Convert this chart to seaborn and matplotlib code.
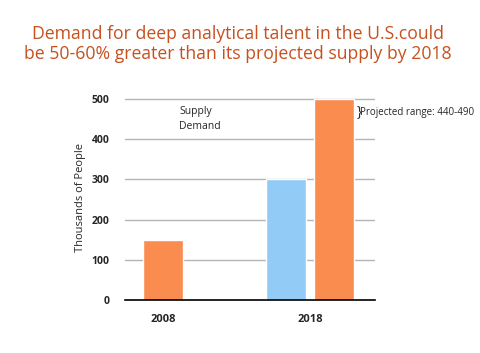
import seaborn as sns
import pandas as pd
import matplotlib.pyplot as plt

years = ["2008", "2018"]
series = ["Supply", "Demand"]
demand_2008 = [150]
values_2018 = [300, 500]
y_ticks = [0, 100, 200, 300, 400, 500]
title = "Demand for deep analytical talent in the U.S.could\nbe 50-60% greater than its projected supply by 2018"
note = "Projected range: 440-490"

orange = "#FA8C50"
blue = "#92CBF5"

df_2008 = pd.DataFrame({"year": ["2008"], "people": demand_2008})
df_2018 = pd.DataFrame({"year": ["2018"] * 2, "kind": series, "people": values_2018})

sns.set_theme(style="white")
plt.rcParams["font.family"] = ["Open Sans", "DejaVu Sans"]

fig = plt.figure(figsize=(4.8, 3.53), dpi=100)
ax = fig.add_axes([0.260, 0.150, 0.521, 0.581])

sns.barplot(data=df_2008, x="year", y="people", order=years, color=orange,
            width=0.27, saturation=1, ax=ax)
sns.barplot(data=df_2018, x="year", y="people", hue="kind", order=years,
            hue_order=series, palette=[blue, orange], width=0.66, gap=0.18,
            saturation=1, ax=ax)

ax.set_xlim(-0.259, 1.442)
ax.set_ylim(0, 510)
ax.set_yticks(y_ticks)
ax.yaxis.grid(True, color="#b5b5b5", linewidth=1)
ax.set_axisbelow(True)
for s in ["left", "right", "top"]:
    ax.spines[s].set_visible(False)
ax.spines["bottom"].set_color("black")
ax.spines["bottom"].set_linewidth(1.2)
ax.tick_params(axis="y", length=0, pad=11, labelsize=7.5)
ax.tick_params(axis="x", length=0, pad=10, labelsize=8)
for t in ax.get_xticklabels() + ax.get_yticklabels():
    t.set_fontweight("bold")
ax.set_xlabel("")
ax.set_ylabel("Thousands of People", fontsize=8, labelpad=4)

leg = ax.legend(loc="upper left", bbox_to_anchor=(0.18, 0.99), frameon=False,
                handlelength=0, handletextpad=0, fontsize=7.5, labelspacing=0.35)
for h in leg.legend_handles:
    h.set_visible(False)

ax.text(0.925, 0.915, "}", transform=ax.transAxes, fontsize=10, va="center", ha="left")
ax.text(0.942, 0.915, note, transform=ax.transAxes, fontsize=7, va="center", ha="left")

fig.text(0.495, 0.876, title, ha="center", va="center", fontsize=12.7,
         color="#C8501E", linespacing=1.15)

plt.savefig("out.png", dpi=100)
plt.close()
